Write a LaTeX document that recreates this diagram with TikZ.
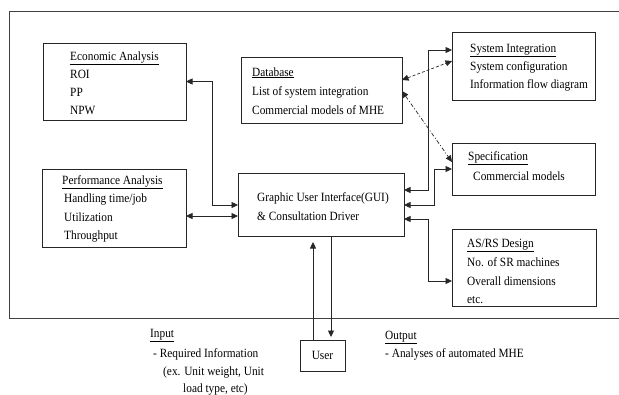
\documentclass[tikz,border=0pt]{standalone}
\usepackage{fontspec}
\setmainfont{Liberation Serif}[FakeStretch=0.9]
\usetikzlibrary{arrows.meta,fit}
\begin{document}
\begin{tikzpicture}[x=1pt,y=-1pt,
  box/.style={draw=black!85, line width=0.7pt, inner sep=0pt, outer sep=0pt},
  txt/.style={anchor=base west, inner sep=0pt, font=\fontsize{12.6}{15}\selectfont},
  conn/.style={draw=black!85, line width=0.7pt, {Triangle[length=6.5pt,width=6pt]}-{Triangle[length=6.5pt,width=6pt]}},
  oneway/.style={draw=black!85, line width=0.7pt, -{Triangle[length=6.5pt,width=6pt]}},
  frameline/.style={draw=black!75, line width=0.9pt}]
\useasboundingbox (0,0) rectangle (619,394);
% outer frame
\draw[frameline] (619,11) -- (9,11) -- (9,318) -- (619,318);
% boxes
\node[box, fit={(43,43) (186,120)}] (econ) {};
\node[box, fit={(241,57) (402,123)}] (db) {};
\node[box, fit={(452,32) (595,100)}] (sysint) {};
\node[box, fit={(452,143) (595,195)}] (spec) {};
\node[box, fit={(42,169) (186,247)}] (perf) {};
\node[box, fit={(238,173) (404,236)}] (gui) {};
\node[box, fit={(452,229) (596,306)}] (asrs) {};
\node[box, minimum width=45, minimum height=31, font=\fontsize{12.6}{15}\selectfont] (user) at (322.5,355.5) {User};
% texts
\node[txt] (econ1) at (70,60) {\underline{Economic Analysis}};
\node[txt] (econ2) at (70,78) {ROI};
\node[txt] (econ3) at (70,96) {PP};
\node[txt] (econ4) at (70,114) {NPW};
\node[txt] (db1) at (252,76) {\underline{Database}};
\node[txt] (db2) at (252,95) {List of system integration};
\node[txt] (db3) at (252,114) {Commercial models of MHE};
\node[txt] (si1) at (470,52) {\underline{System Integration}};
\node[txt] (si2) at (470,70) {System configuration};
\node[txt] (si3) at (470,88) {Information flow diagram};
\node[txt] (sp1) at (468,160) {\underline{Specification}};
\node[txt] (sp2) at (473,180) {Commercial models};
\node[txt] (pa1) at (62,184) {\underline{Performance Analysis}};
\node[txt] (pa2) at (64,202.5) {Handling time/job};
\node[txt] (pa3) at (64,221) {Utilization};
\node[txt] (pa4) at (64,239.5) {Throughput};
\node[txt] (gui1) at (257,201) {Graphic User Interface(GUI)};
\node[txt] (gui2) at (257,220) {\& Consultation Driver};
\node[txt] (as1) at (467,247) {\underline{AS/RS Design}};
\node[txt] (as2) at (467,266) {No. of SR machines};
\node[txt] (as3) at (467,285) {Overall dimensions};
\node[txt] (as4) at (467,303) {etc.};
\node[txt] (in1) at (150,337) {\underline{Input}};
\node[txt] (in2) at (153,357) {- Required Information};
\node[txt] (in3) at (163,375) {(ex. Unit weight, Unit};
\node[txt] (in4) at (183,392) {load type, etc)};
\node[txt] (out1) at (385,339) {\underline{Output}};
\node[txt] (out2) at (385,357) {- Analyses of automated MHE};
% levels
\coordinate (h205) at (0,205);
\coordinate (h216) at (0,216);
\coordinate (h190) at (0,190);
\coordinate (h50) at (0,50);
\coordinate (h169) at (0,169);
\coordinate (h219) at (0,219);
\coordinate (h281) at (0,281);
\coordinate (h80) at (0,80);
\coordinate (h61) at (0,61);
\coordinate (h91) at (0,91);
\coordinate (h162) at (0,162);
\coordinate (v313) at (313,0);
\coordinate (v331) at (331,0);
% connectors
\draw[conn] (econ.east) -| (212,205) -- (gui.west |- h205);
\draw[conn] (perf.east |- h216) -- (gui.west |- h216);
\draw[conn] (gui.east |- h190) -| (428,50) -- (sysint.west |- h50);
\draw[conn] (gui.east |- h205) -| (434,169) -- (spec.west |- h169);
\draw[conn] (gui.east |- h219) -| (428,281) -- (asrs.west |- h281);
\draw[conn, dash pattern=on 3pt off 2pt] (db.east |- h80) -- (sysint.west |- h61);
\draw[conn, dash pattern=on 4pt off 2pt on 1pt off 2pt] (db.east |- h91) -- (spec.west |- h162);
\draw[oneway, shorten >=6pt] (user.north -| v313) -- (gui.south -| v313);
\draw[oneway, shorten >=3pt] (gui.south -| v331) -- (user.north -| v331);
\end{tikzpicture}
\end{document}
